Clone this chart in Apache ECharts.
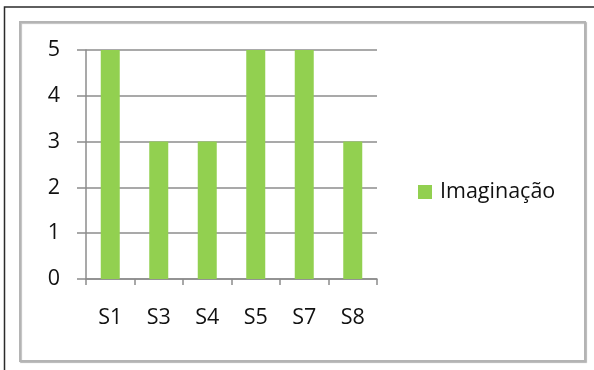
<!DOCTYPE html>
<html>
<head>
<meta charset="utf-8">
<script src="https://cdn.jsdelivr.net/npm/echarts@6/dist/echarts.min.js"></script>
<style>
  html, body { margin: 0; padding: 0; background: #fff; }
  #chart { width: 594px; height: 370px; }
</style>
</head>
<body>
<div id="chart"></div>
<script>
// Scores per subject
const categories = ['S1', 'S3', 'S4', 'S5', 'S7', 'S8'];
const imaginacao = [5, 3, 3, 5, 5, 3];
const seriesName = 'Imaginação';
const yTicks = [0, 1, 2, 3, 4, 5];

const FONT = '"Open Sans", "Noto Sans", sans-serif';
const chart = echarts.init(document.getElementById('chart'), null, { renderer: 'canvas' });

chart.setOption({
  animation: false,
  backgroundColor: '#ffffff',
  graphic: [
    {
      type: 'rect', z: -10,
      shape: { x: 4.5, y: 7, width: 700, height: 500 },
      style: { fill: '#ffffff', stroke: '#2b2b2b', lineWidth: 1.5 }
    },
    {
      type: 'rect', z: -9,
      shape: { x: 20, y: 22, width: 565, height: 339 },
      style: {
        fill: '#ffffff', stroke: '#b4b4b4', lineWidth: 2,
        shadowColor: 'rgba(0,0,0,0.25)', shadowBlur: 1, shadowOffsetX: 1, shadowOffsetY: 1
      }
    }
  ],
  grid: { left: 86, right: 217, top: 50, bottom: 91, containLabel: false },
  legend: {
    orient: 'vertical',
    left: 418, top: 181,
    padding: 0,
    itemWidth: 14, itemHeight: 14, itemGap: 10,
    icon: 'rect',
    textStyle: { fontFamily: FONT, fontSize: 21.5, color: '#111111', padding: [0, 0, 0, 3] },
    data: [seriesName]
  },
  xAxis: {
    type: 'category',
    data: categories,
    axisLine: { show: true, lineStyle: { color: '#8c8c8c', width: 1.5 } },
    axisTick: { show: true, length: 6, alignWithLabel: false, lineStyle: { color: '#8c8c8c', width: 1.5 } },
    axisLabel: { fontFamily: FONT, fontSize: 21.5, color: '#111111', margin: 28 },
    splitLine: { show: false }
  },
  yAxis: {
    type: 'value',
    min: yTicks[0], max: yTicks[yTicks.length - 1], interval: 1,
    axisLine: { show: true, lineStyle: { color: '#8c8c8c', width: 1.5 } },
    axisTick: { show: true, length: 9, lineStyle: { color: '#8c8c8c', width: 1.5 } },
    axisLabel: { fontFamily: FONT, fontSize: 21.5, color: '#111111', margin: 26 },
    splitLine: { show: true, lineStyle: { color: '#8c8c8c', width: 1.5 } }
  },
  series: [{
    name: seriesName,
    type: 'bar',
    data: imaginacao,
    barWidth: 19,
    itemStyle: { color: '#92d050' }
  }]
});
</script>
</body>
</html>
